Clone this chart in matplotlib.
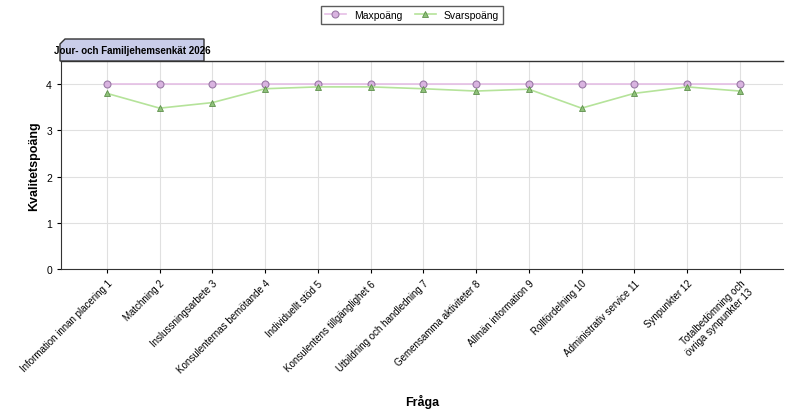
import matplotlib.pyplot as plt
from matplotlib.patches import Polygon

plt.rcParams['font.family'] = ['Liberation Sans', 'DejaVu Sans']

questions = [
    'Information innan placering 1', 'Matchning 2', 'Inslussningsarbete 3',
    'Konsulenternas bemötande 4', 'Individuellt stöd 5',
    'Konsulentens tillgänglighet 6', 'Utbildning och handledning 7',
    'Gemensamma aktiviteter 8', 'Allmän information 9', 'Rollfördelning 10',
    'Administrativ service 11', 'Synpunkter 12',
    'Totalbedömning och\növriga synpunkter 13',
]
maxpoang = [4] * 13
svarspoang = [3.80, 3.48, 3.60, 3.90, 3.94, 3.94, 3.90, 3.85, 3.89, 3.48, 3.80, 3.94, 3.85]

fig = plt.figure(figsize=(8, 4.1), dpi=100)
ax = fig.add_axes([61 / 800, 1 - 270 / 410, 722 / 800, 208 / 410])

x = list(range(len(questions)))
ax.plot(x, maxpoang, color='#e6bfe6', lw=1.2, marker='o', ms=5,
        mfc='#d9b3e0', mec='#9a7aa6', mew=0.8, label='Maxpoäng', zorder=3)
ax.plot(x, svarspoang, color='#b5e39a', lw=1.2, marker='^', ms=4,
        mfc='#8fc27a', mec='#5e8f4c', mew=0.6, label='Svarspoäng', zorder=3)

ax.set_xlim(-0.87, 12.82)
ax.set_ylim(0, 4.5)
ax.set_yticks([0, 1, 2, 3, 4])
ax.set_xticks(x)
ax.set_xticklabels(questions, rotation=45, ha='right', rotation_mode='anchor', fontsize=7)
ax.tick_params(axis='y', labelsize=7.5)
ax.tick_params(length=3)
ax.grid(True, color='#e0e0e0', lw=0.8)
ax.set_axisbelow(True)
for s in ['top', 'right']:
    ax.spines[s].set_visible(False)
ax.spines['left'].set_color('#333333')
ax.spines['bottom'].set_color('#333333')
ax.plot([-0.87, 12.82], [4.5, 4.5], color='#333333', lw=1, clip_on=False)

ax.set_ylabel('Kvalitetspoäng', fontsize=9, fontweight='bold')
ax.set_xlabel('Fråga', fontsize=9, fontweight='bold')
ax.xaxis.set_label_coords(0.5, -0.6)

# title tab
tab = Polygon([(60 / 800, 1 - 62 / 410), (60 / 800, 1 - 45 / 410), (65 / 800, 1 - 40 / 410),
               (204 / 800, 1 - 40 / 410), (204 / 800, 1 - 62 / 410)],
              closed=True, transform=fig.transFigure, facecolor='#c9cde9',
              edgecolor='#333333', lw=1)
fig.patches.append(tab)
fig.text(132 / 800, 1 - 51 / 410, 'Jour- och Familjehemsenkät 2026', ha='center', va='center',
         fontsize=7, fontweight='bold')

leg = fig.legend(loc='center', bbox_to_anchor=(412 / 800, 1 - 16 / 410), ncol=2,
                 fontsize=7.5, frameon=True, fancybox=False, edgecolor='#333333',
                 handlelength=2, columnspacing=1.2, borderpad=0.4)

fig.savefig('out.png', dpi=100)
